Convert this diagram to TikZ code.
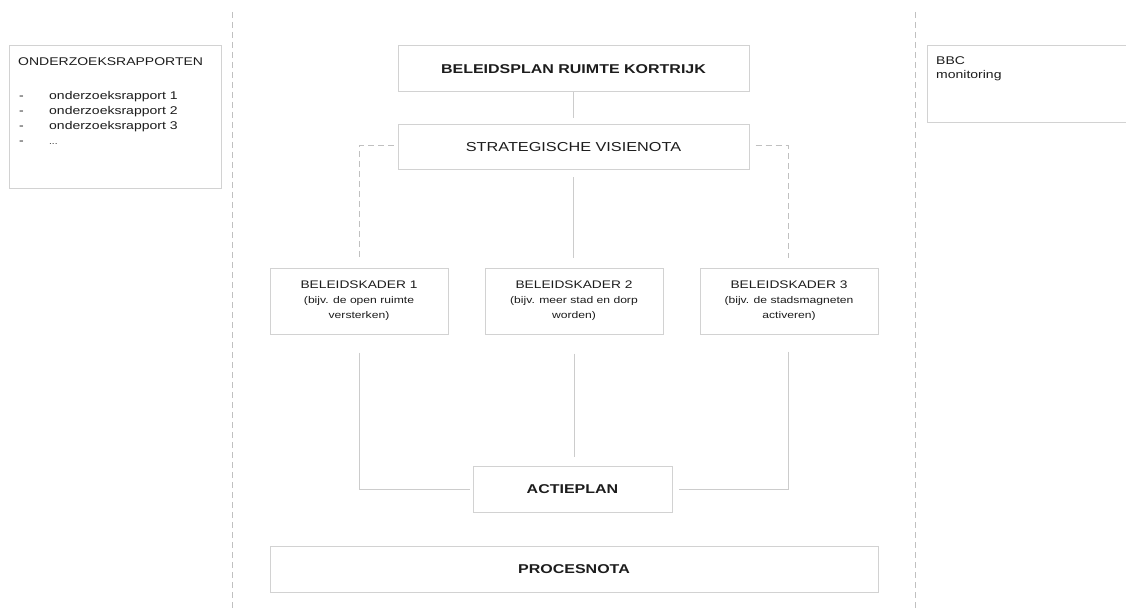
\documentclass[tikz,border=0pt]{standalone}
\usepackage{fontspec}
\setmainfont{Liberation Sans}[FakeStretch=1.25]
\usepackage{xcolor}
\usetikzlibrary{
    calc,
    positioning
}
\definecolor{boxline}{HTML}{D2D2D2}
\definecolor{linkline}{HTML}{CCCCCC}
\definecolor{dashline}{HTML}{C0C0C0}
\definecolor{txt}{HTML}{1C1C1C}
\newcommand{\kleintxt}{\fontsize{9.7}{15}\selectfont}

\begin{document}
\begin{tikzpicture}[x=1pt, y=-1pt,
    box/.style={draw=boxline, line width=1pt, inner sep=0pt, text=txt, align=center},
    titel/.style={font=\fontsize{12.8}{15}\selectfont\bfseries},
    kader/.style={box, minimum width=178, minimum height=66, font=\fontsize{11}{15}\selectfont},
    link/.style={draw=linkline, line width=1pt},
    stippel/.style={draw=dashline, line width=1pt, dash pattern=on 6pt off 4pt},
    tekst/.style={anchor=base west, inner sep=0pt, text=txt, font=\fontsize{11.2}{14}\selectfont}
]
                        \useasboundingbox (0,0) rectangle (1126,612);
                        \draw[stippel]
                        (232,12) -- (232,612)
                        (915,12) -- (915,612);
                        % linkerkolom
                        \node[box, minimum width=212, minimum height=143] (rapporten) at (115,117.5) {};
                        \node[tekst] (rapkop) at (18,66) {ONDERZOEKSRAPPORTEN};
                        \node[tekst] (streep1) at (19,100) {-};
                        \node[tekst] (streep2) at (19,115) {-};
                        \node[tekst] (streep3) at (19,130) {-};
                        \node[tekst] (streep4) at (19,145) {-};
                        \node[tekst] (rapport1) at (49,100) {onderzoeksrapport 1};
                        \node[tekst] (rapport2) at (49,115) {onderzoeksrapport 2};
                        \node[tekst] (rapport3) at (49,130) {onderzoeksrapport 3};
                        \node[tekst, font=\fontsize{8}{14}\selectfont] (rapport4) at (49,145) {...};
                        % rechterkolom
                        \draw[boxline, line width=1pt]
                        (1127,46) -- (927,46) -- (927,123) -- (1127,123);
                        \node[tekst] (bbc) at (936,65) {BBC};
                        \node[tekst] (monitoring) at (936,79) {monitoring};
                        % midden
                        \node[box, titel, minimum width=351, minimum height=46] (plan) at (573.5,69) {BELEIDSPLAN RUIMTE KORTRIJK};
                        \node[box, minimum width=351, minimum height=45, font=\fontsize{13}{15}\selectfont] (visie) at (573.5,147.5) {STRATEGISCHE VISIENOTA};
                        \node[kader] (kader1) at (359,301) {BELEIDSKADER 1\\ \kleintxt (bijv. de open ruimte\\ \kleintxt versterken)};
                        \node[kader] (kader2) at (574,301) {BELEIDSKADER 2\\ \kleintxt (bijv. meer stad en dorp\\ \kleintxt worden)};
                        \node[kader] (kader3) at (789,301) {BELEIDSKADER 3\\ \kleintxt (bijv. de stadsmagneten\\ \kleintxt activeren)};
                        \node[box, titel, minimum width=199, minimum height=46] (actie) at (572.5,489) {ACTIEPLAN};
                        \node[box, titel, minimum width=608, minimum height=46] (proces) at (574,569) {PROCESNOTA};
                        % verbindingen
                        \draw[link, shorten >=6pt] (plan) -- (visie);
                        \draw[link, shorten <=7pt, shorten >=10pt] (visie.south) -- (visie.south |- kader2.north);
                        \draw[stippel, shorten >=10pt] ([xshift=-4pt, yshift=2pt]visie.west) -| (kader1.north);
                        \draw[stippel, shorten >=10pt] ([xshift=6pt, yshift=2pt]visie.east) -| ([xshift=-1pt]kader3.north);
                        \draw[link, shorten <=18pt] (kader1.south) |- ([xshift=-3pt]actie.west);
                        \draw[link, shorten <=19pt, shorten >=9pt] (kader2.south) -- (kader2.south |- actie.north);
                        \draw[link, shorten <=17pt] ([xshift=-1pt]kader3.south) |- ([xshift=6pt]actie.east);
                    \end{tikzpicture}
\end{document}
